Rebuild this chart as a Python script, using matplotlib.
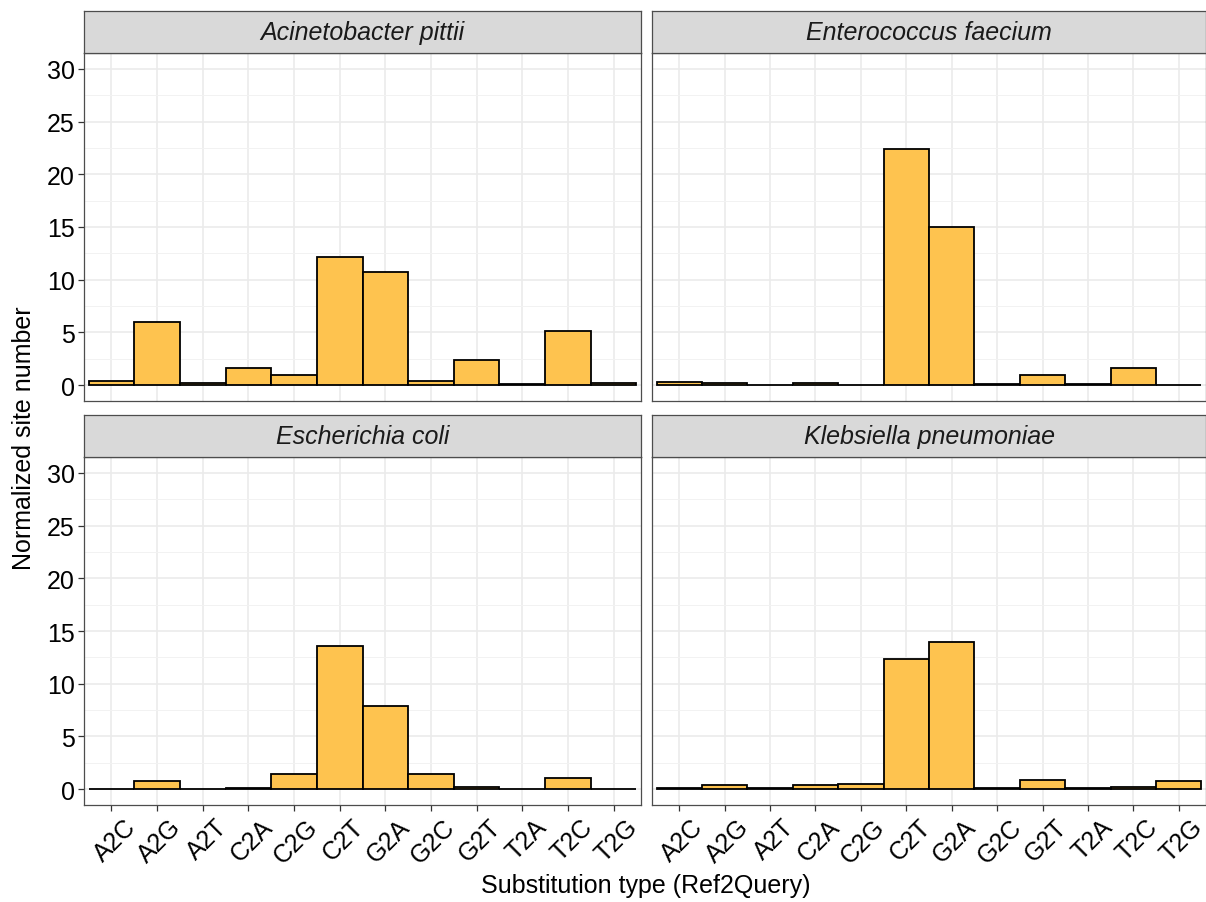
""" substitution spectrum facets """
import numpy as np
import matplotlib.pyplot as plt
from matplotlib.ticker import MultipleLocator
from matplotlib.transforms import ScaledTranslation

plt.rcParams['font.family'] = ['Liberation Sans', 'DejaVu Sans']

subs = ['A2C', 'A2G', 'A2T', 'C2A', 'C2G', 'C2T',
        'G2A', 'G2C', 'G2T', 'T2A', 'T2C', 'T2G']
species = ['Acinetobacter pittii', 'Enterococcus faecium',
           'Escherichia coli', 'Klebsiella pneumoniae']
acinetobacter = [0.4, 6.0, 0.25, 1.6, 0.92, 12.2, 10.7, 0.38, 2.4, 0.1, 5.1, 0.25]
enterococcus = [0.28, 0.22, 0.05, 0.2, 0.05, 22.4, 15.0, 0.15, 0.95, 0.15, 1.6, 0.05]
ecoli = [0.05, 0.75, 0.05, 0.15, 1.48, 13.6, 7.9, 1.42, 0.2, 0.02, 1.1, 0.02]
klebsiella = [0.1, 0.4, 0.1, 0.4, 0.5, 12.3, 14.0, 0.15, 0.85, 0.1, 0.2, 0.8]
values = [acinetobacter, enterococcus, ecoli, klebsiella]

W, H = 1206, 903
fig = plt.figure(figsize=(W / 100, H / 100), dpi=100)

# panel boxes in pixels: (left, right) and (top, bottom)
cols = [(84, 641), (652, 1206)]
rows = [(54, 402), (458, 806)]
strip_h = 42
fill = '#FEC34F'
frame = '#4D4D4D'
fsize = 18

x = np.arange(len(subs))
for i, name in enumerate(species):
    r, c = divmod(i, 2)
    x0, x1 = cols[c]
    y0, y1 = rows[r]
    ax = fig.add_axes([x0 / W, 1 - y1 / H, (x1 - x0) / W, (y1 - y0) / H])
    ax.bar(x, values[i], width=1.0, color=fill, edgecolor='black',
           linewidth=1.3, zorder=3)
    ax.set_xlim(-0.6, 11.6)
    ax.set_ylim(-1.5, 31.5)
    ax.yaxis.set_major_locator(MultipleLocator(5))
    ax.yaxis.set_minor_locator(MultipleLocator(2.5))
    ax.set_xticks(x)
    ax.grid(which='major', color='#EBEBEB', linewidth=1.2, zorder=0)
    ax.grid(which='minor', axis='y', color='#F2F2F2', linewidth=0.7, zorder=0)
    ax.set_axisbelow(True)
    for sp in ax.spines.values():
        sp.set_color(frame)
        sp.set_linewidth(0.9)
    ax.tick_params(which='minor', length=0)
    ax.tick_params(which='major', color='#333333', length=4.5, width=0.9,
                   labelsize=fsize, labelcolor='black', pad=2)
    if r == 1:
        labels = ax.set_xticklabels(subs, rotation=45, ha='right', va='top',
                                    rotation_mode='anchor')
        shift = ScaledTranslation(0.12, 0, fig.dpi_scale_trans)
        for lab in labels:
            lab.set_transform(lab.get_transform() + shift)
    else:
        ax.tick_params(axis='x', length=0, labelbottom=False)
    if c == 1:
        ax.tick_params(axis='y', length=0, labelleft=False)

    # facet strip
    sax = fig.add_axes([x0 / W, 1 - y0 / H, (x1 - x0) / W, strip_h / H])
    sax.set_facecolor('#D9D9D9')
    sax.set_xticks([])
    sax.set_yticks([])
    for sp in sax.spines.values():
        sp.set_color(frame)
        sp.set_linewidth(0.9)
    sax.text(0.5, 0.5, name, ha='center', va='center', style='italic',
             fontsize=fsize, color='#1A1A1A', transform=sax.transAxes)

fig.text(646 / W, 1 - 886 / H, 'Substitution type (Ref2Query)',
         ha='center', va='center', fontsize=fsize)
fig.text(24 / W, 1 - 438 / H, 'Normalized site number', ha='center',
         va='center', rotation=90, fontsize=fsize)

fig.savefig('out.png', dpi=100)
